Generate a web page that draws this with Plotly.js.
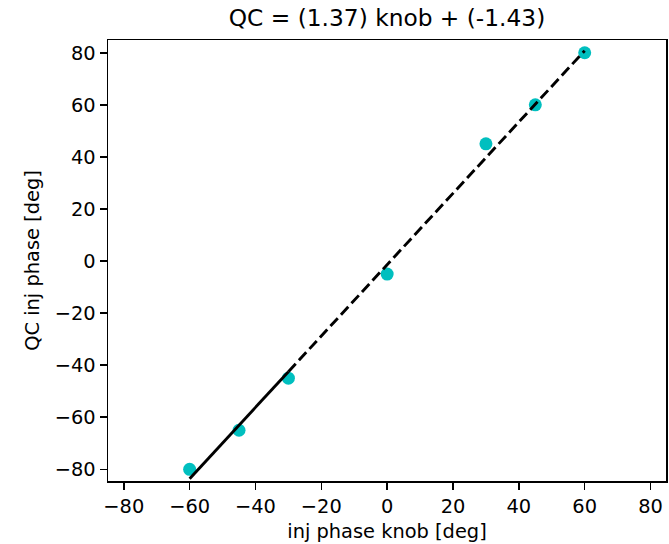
<!DOCTYPE html>
<html>
<head>
<meta charset="utf-8">
<script src="https://cdn.plot.ly/plotly-3.0.1.min.js"></script>
<style>html,body{margin:0;padding:0;background:#fff;}#chart{width:669px;height:544px;}</style>
</head>
<body>
<div id="chart"></div>
<script>
// Measured points (knob setting vs QC phase)
const knobDeg = [-60, -45, -30, 0, 30, 45, 60];
const qcDeg = [-80, -65, -45, -5, 45, 60, 80];
// Fit line endpoints
const fitSolidX = [-60, -30];
const fitSolidY = [-83.6, -42.5];
const fitDashX = [-30, 60];
const fitDashY = [-42.5, 80.8];
const tickVals = [-80, -60, -40, -20, 0, 20, 40, 60, 80];
const titleText = 'QC = (1.37) knob + (-1.43)';
const xTitle = 'inj phase knob [deg]';
const yTitle = 'QC inj phase [deg]';

const font = 'DejaVu Sans, sans-serif';
const traces = [
  {x: knobDeg, y: qcDeg, type: 'scatter', mode: 'markers',
   marker: {color: '#00bfbf', size: 13}, hoverinfo: 'skip'},
  {x: fitSolidX, y: fitSolidY, type: 'scatter', mode: 'lines',
   line: {color: '#000', width: 2.9}},
  {x: fitDashX, y: fitDashY, type: 'scatter', mode: 'lines',
   line: {color: '#000', width: 2.9, dash: '10.8px,4.7px'}}
];
const axisCommon = {
  tickvals: tickVals, showgrid: false, zeroline: false,
  showline: true, mirror: true, linecolor: '#000', linewidth: 1.5,
  ticks: 'outside', ticklen: 7, tickwidth: 1.5, tickcolor: '#000',
  tickfont: {family: font, size: 19.4, color: '#000'},
  automargin: false
};
const layout = {
  width: 669, height: 544,
  margin: {l: 108, r: 3, t: 40, b: 63, pad: 0},
  paper_bgcolor: '#fff', plot_bgcolor: '#fff',
  showlegend: false,
  title: {text: titleText, font: {family: font, size: 23.3, color: '#000'},
          x: 0.5, xref: 'paper', y: 1 - 18/544, yref: 'container', yanchor: 'middle'},
  xaxis: Object.assign({}, axisCommon, {range: [-84.8, 84.7],
    title: {text: xTitle, font: {family: font, size: 19.4, color: '#000'}, standoff: 7}}),
  yaxis: Object.assign({}, axisCommon, {range: [-84.5, 84.9],
    title: {text: yTitle, font: {family: font, size: 19.4, color: '#000'}, standoff: 10}})
};
Plotly.newPlot('chart', traces, layout, {displayModeBar: false, staticPlot: true});
</script>
</body>
</html>
